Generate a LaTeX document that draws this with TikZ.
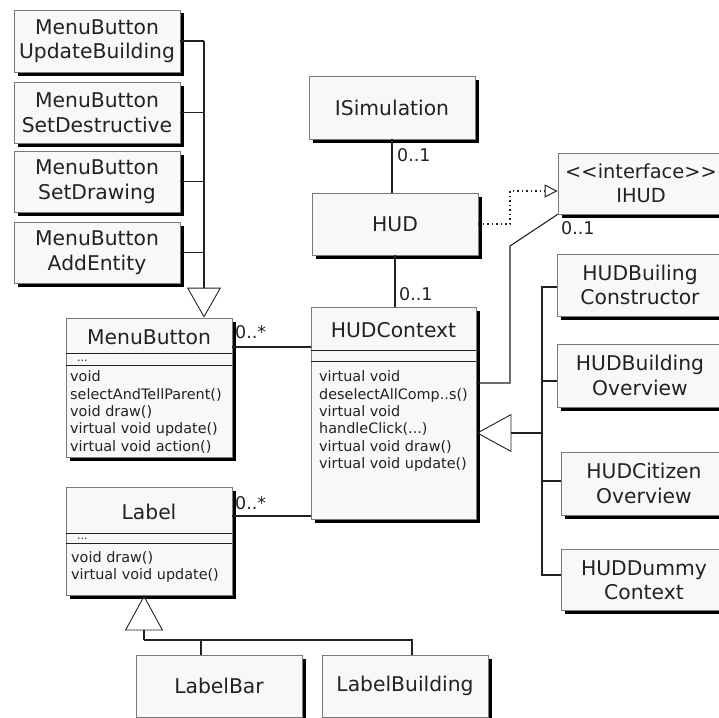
\documentclass[tikz,border=0pt]{standalone}
\usepackage{fontspec}
\setmainfont{DejaVu Sans}
\usetikzlibrary{arrows.meta,shadows}

\definecolor{boxfill}{HTML}{F8F8F8}
\definecolor{boxline}{HTML}{7A7A7A}
\definecolor{ink}{HTML}{222222}

\newcommand{\namefont}{\fontsize{20.3}{24.5}\selectfont}
\newcommand{\ifacefont}{\fontsize{19.4}{24.5}\selectfont}
\newcommand{\methfont}{\fontsize{14.4}{17.4}\selectfont}
\newcommand{\multfont}{\fontsize{17.5}{20}\selectfont}
\newcommand{\attrfont}{\fontsize{11}{13}\selectfont}

\begin{document}
\begin{tikzpicture}[x=1pt,y=-1pt,
  classbox/.style={draw=boxline, fill=boxfill, line width=0.8pt, inner sep=0pt,
    minimum width=166pt, align=center, font=\namefont, text=ink,
    drop shadow={shadow xshift=3.5pt, shadow yshift=-3.5pt, fill=black, opacity=1}},
  nametext/.style={inner sep=0pt, font=\namefont, text=ink},
  methods/.style={inner sep=0pt, anchor=north west, align=left, font=\methfont, text=ink},
  attrtext/.style={inner sep=0pt, anchor=base west, font=\attrfont, text=ink},
  mult/.style={inner sep=0pt, anchor=west, font=\multfont, text=ink},
  compsep/.style={draw=ink, line width=0.9pt},
  conn/.style={draw=ink, line width=1.1pt},
  genbig/.style={conn, -{Triangle[open, length=30pt, width=34pt, line width=0.9pt]}},
  genctx/.style={conn, -{Triangle[open, length=35pt, width=38pt, line width=0.9pt]}},
  realize/.style={draw=ink, line width=1.1pt, dash pattern=on 1.2pt off 3.3pt,
    -{Triangle[open, length=13pt, width=13pt, line width=1pt]}}]

\useasboundingbox (0,0) rectangle (719,717);
\clip (0,0) rectangle (719,717);

% ---- specialised menu buttons ----
\node[classbox, minimum height=62pt] (mbUpdate) at (97,41)    {MenuButton\\UpdateBuilding};
\node[classbox, minimum height=61pt] (mbDestr)  at (97,112.5) {MenuButton\\SetDestructive};
\node[classbox, minimum height=61pt] (mbDraw)   at (97,181.5) {MenuButton\\SetDrawing};
\node[classbox, minimum height=61pt] (mbAdd)    at (97,252.5) {MenuButton\\AddEntity};

% ---- MenuButton class ----
\node[classbox, minimum height=139pt] (menuButton) at (149,387.5) {};
\node[nametext] (menuButtonName) at (149,337) {MenuButton};
\draw[compsep] (menuButton.west |- 0,353) -- (menuButton.east |- 0,353);
\draw[compsep] (menuButton.west |- 0,365) -- (menuButton.east |- 0,365);
\node[attrtext] (menuButtonAttr) at (77,361) {...};
\node[methods] (menuButtonOps) at (70,370.5)
  {void\\selectAndTellParent()\\void draw()\\virtual void update()\\virtual void action()};

% ---- Label class ----
\node[classbox, minimum height=108pt] (label) at (149,541) {};
\node[nametext] (labelName) at (149,512) {Label};
\draw[compsep] (label.west |- 0,533) -- (label.east |- 0,533);
\draw[compsep] (label.west |- 0,543) -- (label.east |- 0,543);
\node[attrtext] (labelAttr) at (77,539.5) {...};
\node[methods] (labelOps) at (71,551) {void draw()\\virtual void update()};

\node[classbox, minimum height=62pt] (labelBar)      at (219,686) {LabelBar};
\node[classbox, minimum height=62pt] (labelBuilding) at (405,686) {LabelBuilding};

% ---- simulation / HUD column ----
\node[classbox, minimum height=63pt] (iSim) at (392,107.5) {ISimulation};
\node[classbox, minimum height=62pt] (hud)  at (395,224)   {HUD};

\node[classbox, minimum width=165pt, minimum height=212pt] (hudContext) at (393.5,413) {};
\node[nametext] (hudContextName) at (393.5,330) {HUDContext};
\draw[compsep] (hudContext.west |- 0,350) -- (hudContext.east |- 0,350);
\draw[compsep] (hudContext.west |- 0,361) -- (hudContext.east |- 0,361);
\node[methods] (hudContextOps) at (319,370.5)
  {virtual void\\deselectAllComp..s()\\virtual void\\handleClick(...)\\virtual void draw()\\virtual void update()};

\node[classbox, minimum height=61pt, font=\ifacefont] (ihud) at (641,183.5)
  {{<}{<}interface{>}{>}\\IHUD};

% ---- HUDContext subclasses ----
\node[classbox, minimum height=62pt] (hudBuildCons) at (640,285)   {HUDBuiling\\Constructor};
\node[classbox, minimum height=63pt] (hudBuildOver) at (640,375.5) {HUDBuilding\\Overview};
\node[classbox, minimum height=63pt] (hudCitOver)   at (644,483.5) {HUDCitizen\\Overview};
\node[classbox, minimum height=61pt] (hudDummy)     at (644,580)   {HUDDummy\\Context};

% ---- connectors: menu button inheritance ----
\coordinate (mbTrunk) at (204,41);
\foreach \sub in {mbUpdate,mbDestr,mbDraw,mbAdd}
  \draw[conn] (\sub.east) -- (\sub.east -| mbTrunk);
\draw[genbig] (mbTrunk) -- (mbTrunk |- menuButton.north);

% ---- connectors: associations to HUDContext ----
\coordinate (mbLink) at (232,347);
\draw[conn] (mbLink) -- (mbLink -| hudContext.west);
\node[mult] (mbMult) at (235,332) {0..*};

\coordinate (labelLink) at (232,516);
\draw[conn] (labelLink) -- (labelLink -| hudContext.west);
\node[mult] (labelMult) at (235,503) {0..*};

\draw[conn] (iSim.south) -- (iSim.south |- hud.north);
\node[mult] (simMult) at (397,155) {0..1};

\draw[conn] (hud.south) -- (hud.south |- hudContext.north);
\node[mult] (ctxMult) at (399,294) {0..1};

% ---- HUD realizes IHUD ----
\coordinate (realBend) at (510,191);
\draw[realize] (hud.east) -| (realBend) -- (realBend -| ihud.west);

% ---- IHUD association ----
\coordinate (ihudKnee) at (510,246);
\coordinate (ihudFoot) at (510,383);
\draw[conn] (ihud.south west) -- (ihudKnee) -- (ihudFoot) -- (ihudFoot -| hudContext.east);
\node[mult] (ihudMult) at (561,228) {0..1};

% ---- HUDContext inheritance ----
\coordinate (ctxJoin)  at (542,433);
\coordinate (brCons)   at (542,287);
\coordinate (brOver)   at (542,381);
\coordinate (brCit)    at (542,481);
\coordinate (brDummy)  at (542,575);
\draw[genctx] (ctxJoin) -- (ctxJoin -| hudContext.east);
\draw[conn] (brCons -| hudBuildCons.west) -- (brCons) -- (brDummy) -- (brDummy -| hudDummy.west);
\draw[conn] (brOver) -- (brOver -| hudBuildOver.west);
\draw[conn] (brCit) -- (brCit -| hudCitOver.west);

% ---- Label inheritance ----
\coordinate (labelJoin) at (144,640);
\coordinate (barDrop)   at (201,640);
\coordinate (bldDrop)   at (412,640);
\draw[genctx] (labelJoin) -- (labelJoin |- label.south);
\draw[conn] (labelJoin) -- (bldDrop) -- (bldDrop |- labelBuilding.north);
\draw[conn] (barDrop) -- (barDrop |- labelBar.north);

\end{tikzpicture}
\end{document}
